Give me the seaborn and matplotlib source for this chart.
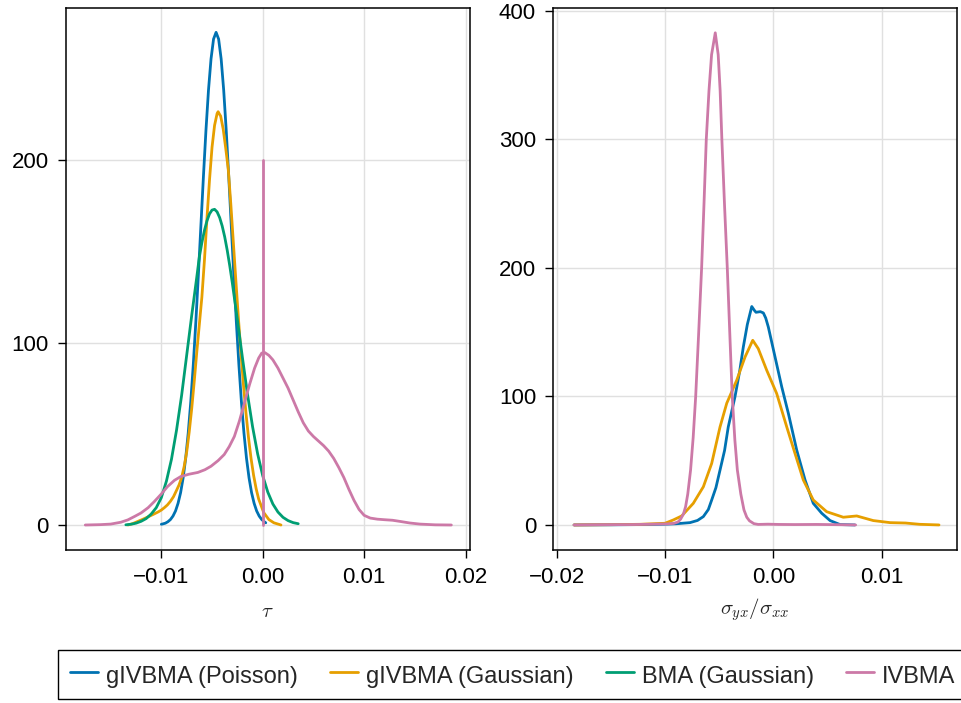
import matplotlib
matplotlib.use("Agg")
import matplotlib.pyplot as plt
import numpy as np
import pandas as pd
import seaborn as sns

sns.set_style("white")
plt.rcParams['font.family'] = ['Liberation Sans', 'DejaVu Sans']
plt.rcParams['mathtext.fontset'] = 'cm'

models = ["gIVBMA (Poisson)", "gIVBMA (Gaussian)", "BMA (Gaussian)", "IVBMA"]
palette = {"gIVBMA (Poisson)": "#0072B2", "gIVBMA (Gaussian)": "#E69F00",
           "BMA (Gaussian)": "#009E73", "IVBMA": "#CC79A7"}

# ---- left panel: tau ----
tau_pois_x = [-0.0100, -0.00985, -0.0096, -0.00935, -0.0091, -0.00885, -0.0086, -0.00835, -0.0081,
              -0.00785, -0.0076, -0.00735, -0.0071, -0.00685, -0.0066, -0.00635, -0.0061,
              -0.00585, -0.0056, -0.00535, -0.0051, -0.00485, -0.0046, -0.00435, -0.0041,
              -0.00385, -0.0036, -0.00335, -0.0031, -0.00285, -0.0026, -0.00235, -0.0021,
              -0.00185, -0.0016, -0.00135, -0.0011, -0.00085, -0.0006, -0.00035, -0.0001,
              0.00015, 0.0003]
tau_pois_y = [0.4, 0.6, 1.0, 1.8, 3.0, 4.9, 7.7, 11.9, 17.7, 25.8, 36.5, 50.3, 67.3, 87.7, 111.0,
              136.7, 163.8, 190.8, 216.2, 238.3, 255.4, 266.3, 270.0, 266.3, 255.4, 238.3, 216.2,
              190.8, 163.8, 136.7, 111.0, 87.7, 67.3, 50.3, 36.5, 25.8, 17.7, 11.9, 7.7, 4.9, 3.0,
              1.8, 1.2]

tau_gaus_x = [-0.0133, -0.0128, -0.0123, -0.0118, -0.0113, -0.0108, -0.0103, -0.0100, -0.0097,
              -0.0094, -0.0091, -0.0088, -0.0085, -0.00825, -0.0080, -0.00775, -0.0075, -0.00725,
              -0.0070, -0.00675, -0.0065, -0.00625, -0.0060, -0.00575, -0.0055, -0.00525,
              -0.0050, -0.00475, -0.0045, -0.0044, -0.00425, -0.00415, -0.0039, -0.00365,
              -0.0034, -0.00315, -0.0029, -0.00265, -0.0024, -0.00215, -0.0019, -0.00165,
              -0.0014, -0.00115, -0.0009, -0.00065, -0.0004, 0.0001, 0.0006, 0.0011, 0.0018]
tau_gaus_y = [0.0, 0.8, 2.0, 3.2, 4.5, 5.8, 7.2, 8.2, 9.5, 11.0, 13.0, 15.5, 19.0, 22.0, 26.0, 32.0,
              40.0, 51.0, 64.0, 79.0, 95.0, 110.0, 125.0, 145.0, 168.0, 189.0, 207.0, 219.0,
              225.5, 226.5, 225.0, 224.1, 217.0, 206.5, 195.0, 176.0, 155.0, 134.0, 113.4, 94.3,
              76.8, 61.2, 47.7, 36.4, 27.2, 19.9, 14.2, 6.8, 3.0, 1.2, 0.0]

tau_bma_x = [-0.0135, -0.0130, -0.0125, -0.0120, -0.0115, -0.0110, -0.0105, -0.0100, -0.0095,
             -0.0090, -0.0085, -0.0080, -0.0075, -0.0070, -0.0065, -0.00625, -0.0060, -0.00575,
             -0.0055, -0.00525, -0.0050, -0.00475, -0.0045, -0.00425, -0.0040, -0.00375,
             -0.0035, -0.00325, -0.0030, -0.0025, -0.0020, -0.0015, -0.0010, -0.0005,
             0.0000, 0.0005, 0.0010, 0.0015, 0.0020, 0.0025, 0.0030, 0.0035]
tau_bma_y = [0.1, 0.4, 1.0, 2.0, 3.5, 6.0, 9.5, 15.0, 24.0, 36.0, 52.0, 71.0, 93.0, 115.0, 136.0,
             146.9, 154.8, 161.4, 166.7, 170.5, 172.6, 173.0, 171.6, 168.5, 163.9, 157.9, 150.5,
             142.0, 132.7, 112.5, 91.6, 71.6, 53.8, 38.9, 27.0, 18.0, 11.5, 7.1, 4.2, 2.4, 1.3,
             0.7]

tau_iv_x = [-0.0175, -0.0160, -0.0150, -0.0140, -0.0133, -0.0126, -0.0120, -0.0113, -0.0107,
            -0.0100, -0.0094, -0.0087, -0.0081, -0.0073, -0.0064, -0.0057, -0.0051, -0.0044,
            -0.0038, -0.0033, -0.0028, -0.0023, -0.0018, -0.0013, -0.0008, -0.0004, -0.0001,
            0.0002, 0.0006, 0.0010, 0.0015, 0.0020, 0.0025, 0.0030, 0.0035, 0.0040, 0.0045,
            0.0050, 0.0055, 0.0060, 0.0065, 0.0070, 0.0075, 0.0080, 0.0085, 0.0090, 0.0095,
            0.0100, 0.0106, 0.0113, 0.0120, 0.0128, 0.0135, 0.0145, 0.0155, 0.0170, 0.0186]
tau_iv_y = [0.0, 0.2, 0.5, 1.5, 2.8, 4.8, 6.6, 9.5, 12.8, 17.0, 21.0, 24.5, 26.5, 27.8, 28.8,
            30.3, 32.2, 35.3, 38.6, 43.0, 48.5, 57.0, 67.0, 77.0, 86.0, 91.5, 94.2, 94.5, 93.0,
            90.5, 86.0, 80.5, 75.0, 68.5, 62.0, 56.0, 51.5, 48.5, 46.0, 43.5, 40.5, 36.5, 31.5,
            26.0, 19.5, 13.5, 8.5, 5.3, 3.8, 3.2, 2.9, 2.6, 2.0, 1.1, 0.5, 0.1, 0.0]

true_tau_x = [0.0, 0.0]
true_tau_y = [0.0, 200.0]

# ---- right panel: sigma_yx / sigma_xx ----
sig_pois_x = [-0.0184, -0.0150, -0.0120, -0.0100, -0.0090, -0.00769, -0.0070, -0.00646, -0.0060,
              -0.00569, -0.0053, -0.00492, -0.0045, -0.00416, -0.00354, -0.0031, -0.00277,
              -0.0024, -0.00199, -0.00175, -0.0016, -0.0012, -0.00092, -0.0007, -0.00046,
              0.00016, 0.00078, 0.00139, 0.00216, 0.00293, 0.00369, 0.00447, 0.00524, 0.00616,
              0.00753]
sig_pois_y = [0.0, 0.1, 0.3, 0.6, 0.9, 1.8, 3.5, 6.5, 12.0, 19.4, 29.0, 42.7, 58.0, 76.3, 99.7,
              120.0, 138.5, 156.0, 170.0, 167.0, 165.5, 166.0, 165.0, 161.0, 154.0, 130.7, 107.4,
              86.8, 58.3, 35.0, 16.8, 9.1, 3.4, 0.3, 0.0]

sig_gaus_x = [-0.0184, -0.0150, -0.01231, -0.0100, -0.00923, -0.00846, -0.00739, -0.00646,
              -0.00569, -0.00492, -0.0043, -0.00338, -0.00261, -0.0019, -0.00139, -0.00061,
              0.00031, 0.00124, 0.0020, 0.00277, 0.00369, 0.00493, 0.00646, 0.0077, 0.00923,
              0.01078, 0.0122, 0.0135, 0.0153]
sig_gaus_y = [0.0, 0.2, 0.5, 1.3, 3.9, 7.0, 16.8, 29.7, 47.9, 76.3, 94.7, 112.6, 130.7, 143.7,
              137.2, 120.4, 102.3, 76.3, 55.7, 35.0, 19.4, 10.3, 6.0, 7.0, 3.4, 1.8, 1.5, 0.5,
              0.0]

sig_iv_x = [-0.0184, -0.0160, -0.0130, -0.0110, -0.0098, -0.0092, -0.0088, -0.00856, -0.0083,
            -0.0081, -0.0079, -0.00764, -0.0074, -0.00717, -0.0069, -0.00662, -0.0064, -0.00619,
            -0.00594, -0.0057, -0.00536, -0.00509, -0.00491, -0.00475, -0.0045, -0.00425,
            -0.0040, -0.00379, -0.00355, -0.00332, -0.0030, -0.00271, -0.00245, -0.0022,
            -0.00179, -0.0014, -0.0005, 0.0005, 0.0020, 0.0040, 0.0060, 0.0076]
sig_iv_y = [0.0, 0.2, 0.3, 0.6, 0.8, 1.2, 2.3, 4.5, 8.5, 14.2, 24.0, 42.7, 68.0, 99.7, 148.0,
            200.0, 250.0, 300.0, 338.0, 366.0, 383.0, 366.0, 338.0, 300.0, 248.0, 200.0, 145.0,
            99.7, 66.0, 42.7, 24.0, 11.7, 6.0, 3.2, 1.0, 0.4, 0.6, 0.4, 0.3, 0.4, 0.2, 0.0]

tau_ticks = [-0.01, 0.0, 0.01, 0.02]
tau_ticklabels = ["\u22120.01", "0.00", "0.01", "0.02"]
tau_yticks = [0, 100, 200]
sig_ticks = [-0.02, -0.01, 0.0, 0.01]
sig_ticklabels = ["\u22120.02", "\u22120.01", "0.00", "0.01"]
sig_yticks = [0, 100, 200, 300, 400]


def make_frame(curves):
    parts = []
    for name, xs, ys in curves:
        parts.append(pd.DataFrame({"x": xs, "density": ys, "model": name}))
    return pd.concat(parts, ignore_index=True)


df_tau = make_frame([(models[0], tau_pois_x, tau_pois_y),
                     (models[1], tau_gaus_x, tau_gaus_y),
                     (models[2], tau_bma_x, tau_bma_y),
                     (models[3], tau_iv_x, tau_iv_y)])
df_sig = make_frame([(models[0], sig_pois_x, sig_pois_y),
                     (models[1], sig_gaus_x, sig_gaus_y),
                     (models[3], sig_iv_x, sig_iv_y)])

W, H = 961, 703
fig = plt.figure(figsize=(W / 100, H / 100), dpi=100)
ax1 = fig.add_axes([65.5 / W, 1 - 550 / H, 404 / W, 542.5 / H])
ax2 = fig.add_axes([552.7 / W, 1 - 550 / H, 404.3 / W, 542.5 / H])

sns.lineplot(data=df_tau, x="x", y="density", hue="model", hue_order=models, palette=palette,
             sort=False, estimator=None, linewidth=2, ax=ax1)
ax1.plot(true_tau_x, true_tau_y, color=palette["IVBMA"], linewidth=2)
sns.lineplot(data=df_sig, x="x", y="density", hue="model",
             hue_order=[models[0], models[1], models[3]], palette=palette,
             sort=False, estimator=None, linewidth=2, ax=ax2)

handles, labels = ax1.get_legend_handles_labels()
ax1.get_legend().remove()
ax2.get_legend().remove()

for ax in (ax1, ax2):
    ax.grid(True, color="#e0e0e0", linewidth=1)
    ax.set_axisbelow(True)
    for s in ax.spines.values():
        s.set_color("black")
        s.set_linewidth(1.1)
    ax.tick_params(axis="both", direction="out", length=5.5, width=1, labelsize=16,
                   colors="black", bottom=True, left=True, top=False, right=False)
    ax.tick_params(axis="x", pad=7)
    ax.tick_params(axis="y", pad=6.5)
    ax.set_ylabel("")

ax1.set_xlim(-0.01945, 0.02039)
ax1.set_ylim(-13.7, 283.6)
ax1.set_xticks(tau_ticks)
ax1.set_xticklabels(tau_ticklabels)
ax1.set_yticks(tau_yticks)
ax1.set_xlabel(r"$\tau$", fontsize=15, labelpad=10)

ax2.set_xlim(-0.02037, 0.01696)
ax2.set_ylim(-19.5, 402.7)
ax2.set_xticks(sig_ticks)
ax2.set_xticklabels(sig_ticklabels)
ax2.set_yticks(sig_yticks)
ax2.set_xlabel(r"$\sigma_{yx} / \sigma_{xx}$", fontsize=15, labelpad=6)

# legend runs off the right edge, as in the original
leg = fig.legend(handles, labels, loc="upper left", bbox_to_anchor=(58 / W, 1 - 650 / H),
                 ncol=4, frameon=True, fancybox=False, edgecolor="black", framealpha=1,
                 fontsize=17, handlelength=1.2, handletextpad=0.33, columnspacing=1.36,
                 handleheight=1.3, borderpad=0.5, borderaxespad=0)
leg.get_frame().set_linewidth(1)
for h in leg.legend_handles:
    h.set_linewidth(2)

fig.savefig("out.png", dpi=100)
